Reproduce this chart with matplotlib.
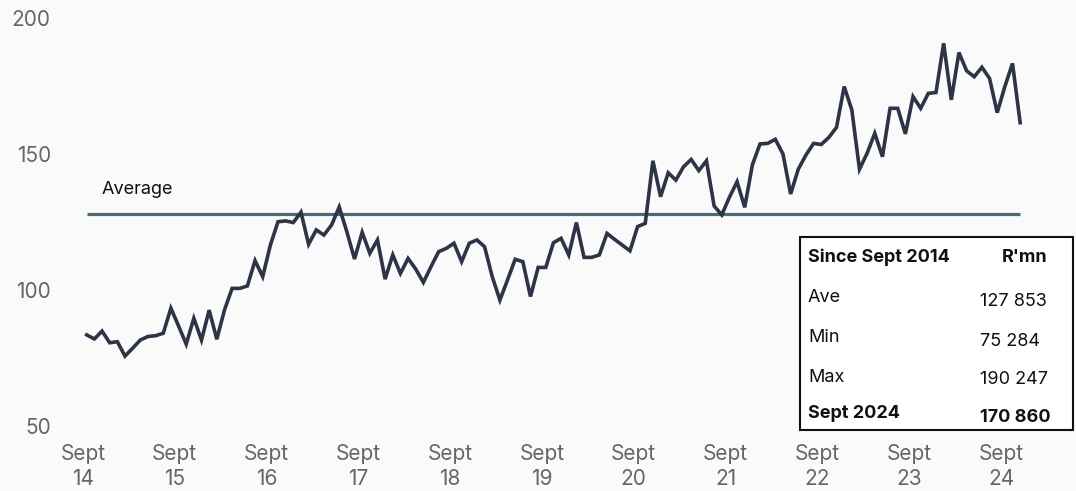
import matplotlib.pyplot as plt
from matplotlib.patches import Rectangle
import numpy as np

plt.rcParams['font.family'] = ['Inter', 'DejaVu Sans']

# monthly values (R'bn), Sept 2014 onwards
values = [83.5, 82.0, 84.9, 80.6, 81.0, 75.7, 78.6, 81.6, 82.9, 83.2,
          84.1, 93.3, 86.8, 80.1, 89.6, 81.6, 92.6, 81.9, 92.6, 100.6,
          100.6, 101.5, 110.8, 104.9, 116.5, 125.1, 125.4, 124.8, 128.6, 116.8,
          122.1, 120.2, 123.9, 130.5, 121.4, 111.4, 121.2, 113.5, 118.4, 104.0,
          112.9, 106.1, 111.6, 107.7, 102.8, 108.6, 114.1, 115.3, 117.2, 110.4,
          117.2, 118.4, 115.9, 104.9, 96.3, 103.7, 111.3, 110.4, 97.6, 108.3,
          108.3, 117.4, 119.0, 112.9, 124.8, 112.0, 112.0, 112.9, 120.8, 118.6,
          116.5, 114.4, 123.3, 124.5, 147.5, 134.3, 143.1, 140.4, 145.3, 148.0,
          143.9, 147.5, 130.9, 127.6, 134.1, 139.8, 130.4, 146.0, 153.7, 153.9,
          155.4, 150.0, 135.3, 144.4, 149.6, 153.9, 153.5, 156.1, 159.8, 174.8,
          166.2, 144.4, 150.3, 157.6, 149.0, 166.8, 166.8, 157.4, 171.1, 166.8,
          172.3, 172.6, 190.7, 169.9, 187.3, 180.6, 178.4, 181.9, 177.8, 165.2,
          174.8, 183.3, 161.5]
average = 127.853
years = ['14', '15', '16', '17', '18', '19', '20', '21', '22', '23', '24']
y_ticks = [50, 100, 150, 200]

table_rows = [("Since Sept 2014", "R'mn"), ("Ave", "127 853"), ("Min", "75 284"),
              ("Max", "190 247"), ("Sept 2024", "170 860")]
bold_rows = [0, 4]

bg = '#fafafa'
fig = plt.figure(figsize=(10.76, 4.91), dpi=100, facecolor=bg)
ax = fig.add_axes([80 / 1076, 1 - 426 / 491, 1 - 80 / 1076, (426 - 18) / 491])
ax.set_facecolor(bg)

x = np.arange(len(values))
ax.plot(x, values, color='#2d3446', lw=2.6, solid_joinstyle='miter', zorder=3)
ax.hlines(average, 0, len(values) - 1, color='#4f6a75', lw=2.3, zorder=2)
ax.text(2, average + 7.5, 'Average', fontsize=13, color='#111111')

ax.set_ylim(50, 200)
ax.set_xlim(-0.88, 129.3)
ax.set_yticks(y_ticks)
ax.set_yticklabels([str(v) for v in y_ticks])
ax.set_xticks(np.arange(0, 121, 12) - 0.5)
ax.set_xticklabels(['Sept\n' + y for y in years], linespacing=1.3)
ax.tick_params(axis='both', length=0, labelsize=15, colors='#666666')
ax.tick_params(axis='y', pad=21)
ax.tick_params(axis='x', pad=13)
for s in ax.spines.values():
    s.set_visible(False)

# summary table box
fig.add_artist(Rectangle((800 / 1076, 1 - 430 / 491), 273 / 1076, 193 / 491,
                         transform=fig.transFigure, facecolor='white',
                         edgecolor='#111111', lw=1.5, zorder=5))
row_y = [257, 298, 338, 377, 414]
for i, (lab, val) in enumerate(table_rows):
    w = 'bold' if i in bold_rows else 'normal'
    fig.text(808 / 1076, 1 - row_y[i] / 491, lab, fontsize=13, fontweight=w,
             va='center', ha='left', color='#111111', zorder=6)
    if i == 0:
        fig.text(1025 / 1076, 1 - row_y[i] / 491, val, fontsize=13, fontweight=w,
                 va='center', ha='center', color='#111111', zorder=6)
    else:
        fig.text(980 / 1076, 1 - (row_y[i] + 3) / 491, val, fontsize=13, fontweight=w,
                 va='center', ha='left', color='#111111', zorder=6)

fig.savefig('out.png', dpi=100, facecolor=bg)
